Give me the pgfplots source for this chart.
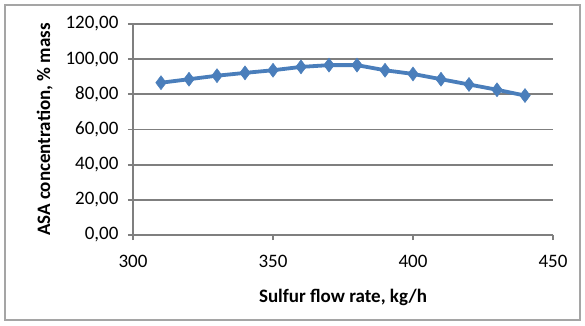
\documentclass[border=0pt]{standalone}
\usepackage{pgfplots}
\pgfplotsset{compat=1.18}
\usepackage{fontspec}
\setmainfont{Carlito}
\definecolor{gridgray}{HTML}{7F7F7F}
\definecolor{serblue}{HTML}{4A7EBB}

\pgfplotstableread{
x    y
310  86.6
320  88.6
330  90.6
340  92.2
350  93.7
360  95.6
370  96.6
380  96.6
390  93.7
400  91.6
410  88.6
420  85.6
430  82.6
440  79.3
}\asadata

\begin{document}
\fontsize{19}{22}\selectfont
\begin{tikzpicture}[x=1pt,y=1pt]
\useasboundingbox (-133,-90) rectangle (452,235);
\draw[gridgray!70, line width=1.2pt] (-128,-85) rectangle (447,230);
\begin{axis}[
  at={(0,0)}, anchor=south west,
  scale only axis, width=420pt, height=211pt,
  xmin=300, xmax=450, ymin=0, ymax=120,
  xtick={300,350,...,450}, ytick={0,20,...,120},
  axis x line*=bottom, axis y line*=left,
  axis line style={gridgray, line width=1.8pt, -},
  ymajorgrids, grid style={gridgray, line width=1.8pt},
  tick style={gridgray, line width=1.8pt},
  tick align=outside, major tick length=5pt,
  /pgf/number format/assume math mode=true,
  yticklabel={\pgfmathprintnumber[fixed, fixed zerofill, precision=2, use comma]{\tick}},
  xticklabel={\pgfmathprintnumber[fixed]{\tick}},
  xticklabel style={font=\fontsize{19}{22}\selectfont, yshift=-9pt},
  yticklabel style={font=\fontsize{19}{22}\selectfont, xshift=-3pt},
  xlabel={\textbf{Sulfur flow rate, kg/h}},
  ylabel={\textbf{ASA concentration, \% mass}},
  label style={font=\fontsize{19}{22}\selectfont},
  xlabel style={yshift=-8pt},
  ylabel style={yshift=0pt},
  clip=false,
]
\addplot[serblue, line width=3.8pt, mark=diamond*, mark size=7pt,
  mark options={fill=serblue, draw=serblue, line width=0.5pt}]
  table[x=x, y=y] {\asadata};
\end{axis}
\end{tikzpicture}
\end{document}
